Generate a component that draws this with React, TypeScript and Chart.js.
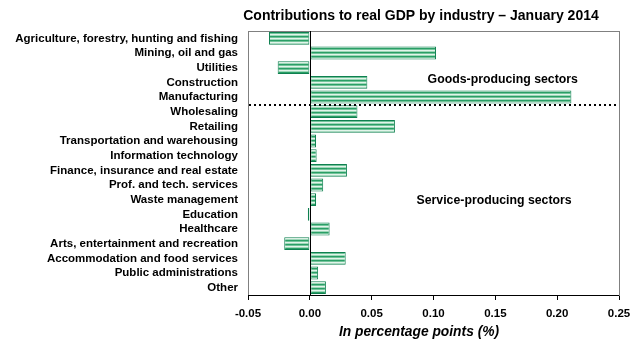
import React, { useEffect, useRef } from "react";
import { Chart, registerables } from "chart.js";

Chart.register(...registerables);

const categories: string[] = [
  "Agriculture, forestry, hunting and fishing",
  "Mining, oil and gas",
  "Utilities",
  "Construction",
  "Manufacturing",
  "Wholesaling",
  "Retailing",
  "Transportation and warehousing",
  "Information technology",
  "Finance, insurance and real estate",
  "Prof. and tech. services",
  "Waste management",
  "Education",
  "Healthcare",
  "Arts, entertainment and recreation",
  "Accommodation and food services",
  "Public administrations",
  "Other",
];

const contributions: number[] = [
  -0.033, 0.102, -0.026, 0.0465, 0.2115, 0.0385, 0.0688, 0.005, 0.0055, 0.03,
  0.0108, 0.005, -0.0016, 0.016, -0.0207, 0.029, 0.0067, 0.013,
];

const xTicks: number[] = [-0.05, 0, 0.05, 0.1, 0.15, 0.2, 0.25];

const chartTitle = "Contributions to real GDP by industry \u2013 January 2014";
const xAxisTitle = "In percentage points (%)";
const goodsLabel = "Goods-producing sectors";
const servicesLabel = "Service-producing sectors";

const FONT = "'Liberation Sans', Arial, sans-serif";
const W = 641;
const H = 339;

function makePattern(): CanvasPattern | string {
  const c = document.createElement("canvas");
  c.width = 4;
  c.height = 4;
  const ctx = c.getContext("2d");
  if (!ctx) return "#5cb88a";
  const rows = ["#2a9e66", "#72c49a", "#e2f4ea", "#9dd7b8"];
  rows.forEach((col, i) => {
    ctx.fillStyle = col;
    ctx.fillRect(0, i, 4, 1);
  });
  const p = ctx.createPattern(c, "repeat");
  return p || "#5cb88a";
}

const decorPlugin = {
  id: "decor",
  beforeDatasetsDraw(chart: any) {
    const { ctx, chartArea } = chart;
    ctx.save();
    ctx.strokeStyle = "#808080";
    ctx.lineWidth = 1;
    ctx.strokeRect(
      Math.round(chartArea.left) + 0.5,
      Math.round(chartArea.top) + 0.5,
      Math.round(chartArea.right - chartArea.left),
      Math.round(chartArea.bottom - chartArea.top)
    );
    ctx.restore();
  },
  afterDatasetsDraw(chart: any) {
    const { ctx, chartArea, scales } = chart;
    const x = scales.x;
    const y = scales.y;
    ctx.save();
    // zero line
    const x0 = Math.round(x.getPixelForValue(0)) + 0.5;
    ctx.strokeStyle = "#000";
    ctx.lineWidth = 1;
    ctx.beginPath();
    ctx.moveTo(x0, chartArea.top);
    ctx.lineTo(x0, chartArea.bottom);
    ctx.stroke();
    // bottom axis
    const yb = Math.round(chartArea.bottom) + 0.5;
    ctx.beginPath();
    ctx.moveTo(chartArea.left, yb);
    ctx.lineTo(chartArea.right, yb);
    ctx.stroke();
    // dotted separator
    const yd = Math.round(y.getPixelForValue(4.5)) + 1;
    ctx.fillStyle = "#000";
    for (let px = chartArea.left + 1; px < chartArea.right - 4; px += 5) {
      ctx.fillRect(px, yd - 1, 2, 2);
    }
    // annotations
    ctx.font = "bold 12.3px " + FONT;
    ctx.textAlign = "center";
    ctx.textBaseline = "middle";
    ctx.fillStyle = "#000";
    ctx.fillText(goodsLabel, x.getPixelForValue(0.156), y.getPixelForValue(2.78));
    ctx.fillText(servicesLabel, x.getPixelForValue(0.149), y.getPixelForValue(11.05));
    // title
    ctx.font = "bold 14px " + FONT;
    ctx.fillText(chartTitle, 421, 16.5);
    // x-axis title
    ctx.font = "italic bold 13.8px " + FONT;
    ctx.fillText(xAxisTitle, 419, 332);
    ctx.restore();
  },
};

export default function App() {
  const ref = useRef<HTMLCanvasElement | null>(null);
  useEffect(() => {
    if (!ref.current) return;
    const pattern = makePattern();
    const chart = new Chart(ref.current, {
      type: "bar",
      data: {
        labels: categories,
        datasets: [
          {
            data: contributions,
            backgroundColor: pattern as any,
            borderColor: "#0f8050",
            borderWidth: 1,
            barPercentage: 0.88,
            categoryPercentage: 1,
            borderSkipped: false,
          },
        ],
      },
      options: {
        indexAxis: "y",
        animation: false,
        responsive: false,
        maintainAspectRatio: false,
        devicePixelRatio: 1,
        layout: { padding: { top: 31, right: 22, left: 0, bottom: 0 } },
        plugins: {
          legend: { display: false },
          title: { display: false },
          tooltip: { enabled: false },
        },
        scales: {
          x: {
            type: "linear",
            min: -0.05,
            max: 0.25,
            afterBuildTicks: (scale: any) => {
              scale.ticks = xTicks.map((v) => ({ value: v }));
            },
            afterFit: (scale: any) => {
              scale.height = 44;
            },
            border: { display: false },
            grid: {
              drawOnChartArea: false,
              drawTicks: true,
              tickLength: 5,
              color: "#000",
              tickColor: "#000",
            },
            ticks: {
              color: "#000",
              font: { family: FONT, size: 11.5, weight: "bold" },
              padding: 7,
              maxRotation: 0,
              callback: (v: any) => Number(v).toFixed(2),
            },
            title: { display: false },
          },
          y: {
            type: "category",
            offset: true,
            afterFit: (scale: any) => {
              scale.width = 248;
            },
            border: { display: false },
            grid: { display: false },
            ticks: {
              color: "#000",
              font: { family: FONT, size: 11.5, weight: "bold" },
              padding: 2,
              autoSkip: false,
            },
          },
        },
      },
      plugins: [decorPlugin],
    });
    return () => chart.destroy();
  }, []);
  return (
    <div style={{ position: "fixed", left: 0, top: 0, width: W, height: H }}>
      <canvas ref={ref} width={W} height={H} style={{ width: W, height: H, display: "block" }} />
    </div>
  );
}
